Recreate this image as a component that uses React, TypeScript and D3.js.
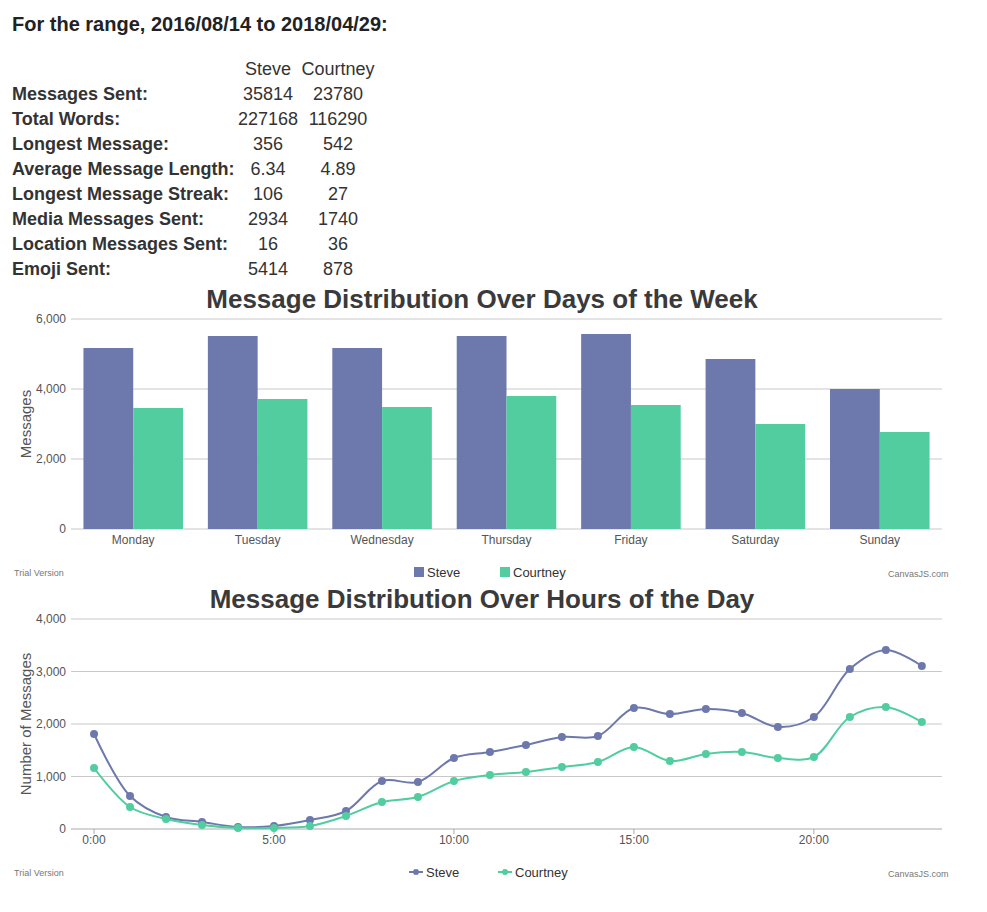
import React from "react";
import * as d3 from "d3";

const rangeTitle = "For the range, 2016/08/14 to 2018/04/29:";
const people = ["Steve", "Courtney"];
const statLabels = ["Messages Sent:", "Total Words:", "Longest Message:", "Average Message Length:", "Longest Message Streak:", "Media Messages Sent:", "Location Messages Sent:", "Emoji Sent:"];
const steveStats = ["35814", "227168", "356", "6.34", "106", "2934", "16", "5414"];
const courtneyStats = ["23780", "116290", "542", "4.89", "27", "1740", "36", "878"];

const days = ["Monday", "Tuesday", "Wednesday", "Thursday", "Friday", "Saturday", "Sunday"];
const steveDays = [5171, 5514, 5171, 5514, 5571, 4857, 4000];
const courtneyDays = [3457, 3714, 3486, 3800, 3543, 3000, 2771];
const dayTicks = [0, 2000, 4000, 6000];

const hours = d3.range(24);
const steveHours = [1810, 629, 229, 133, 38, 57, 171, 343, 914, 895, 1352, 1467, 1600, 1752, 1771, 2305, 2190, 2286, 2210, 1943, 2133, 3048, 3410, 3105];
const courtneyHours = [1162, 419, 190, 76, 19, 19, 57, 248, 514, 610, 914, 1029, 1086, 1181, 1276, 1562, 1295, 1429, 1467, 1352, 1371, 2133, 2324, 2038];
const hourTicks = [0, 5, 10, 15, 20];
const countTicks = [0, 1000, 2000, 3000, 4000];

const colors = ["#6D78AD", "#51CDA0"];
const font = "'Liberation Sans', Arial, sans-serif";
const fmt = d3.format(",");

export default function App() {
  const L = 71, R = 942;
  // bar chart
  const x0 = d3.scaleBand().domain(days).range([L, R]).paddingInner(0.2).paddingOuter(0.1);
  const x1 = d3.scaleBand().domain(people).range([0, x0.bandwidth()]);
  const yb = d3.scaleLinear().domain([0, 6000]).range([529, 319]);
  // line chart
  const xl = d3.scaleLinear().domain([-0.64, 23.56]).range([L, R]);
  const yl = d3.scaleLinear().domain([0, 4000]).range([829, 619]);
  const line = d3.line<number>().x((_, i) => xl(hours[i])).y(d => yl(d)).curve(d3.curveCatmullRom.alpha(0.5));
  const hourSeries = [steveHours, courtneyHours];

  return (
    <svg width={987} height={912} style={{ position: "absolute", left: 0, top: 0 }} fontFamily={font}>
      <rect width={987} height={912} fill="#fff" />
      <text x={12} y={31} fontSize={20} fontWeight="bold" fill="#222">{rangeTitle}</text>
      <text x={268} y={75} fontSize={18} textAnchor="middle" fill="#333">Steve</text>
      <text x={338} y={75} fontSize={18} textAnchor="middle" fill="#333">Courtney</text>
      {statLabels.map((l, i) => (
        <g key={l}>
          <text x={12} y={100 + i * 25} fontSize={18} fontWeight="bold" fill="#333">{l}</text>
          <text x={268} y={100 + i * 25} fontSize={18} textAnchor="middle" fill="#333">{steveStats[i]}</text>
          <text x={338} y={100 + i * 25} fontSize={18} textAnchor="middle" fill="#333">{courtneyStats[i]}</text>
        </g>
      ))}

      {/* bar chart */}
      <text x={482} y={308} fontSize={26} fontWeight="bold" textAnchor="middle" fill="#3A3A3A">Message Distribution Over Days of the Week</text>
      {dayTicks.map(t => (
        <g key={t}>
          <line x1={L} x2={R} y1={yb(t)} y2={yb(t)} stroke="#c8c8c8" />
          <text x={66} y={yb(t) + 4} fontSize={12} textAnchor="end" fill="#555">{fmt(t)}</text>
        </g>
      ))}
      {days.map((d, i) => (
        <g key={d}>
          {[steveDays[i], courtneyDays[i]].map((v, j) => (
            <rect key={j} x={x0(d)! + x1(people[j])!} width={x1.bandwidth()} y={yb(v)} height={yb(0) - yb(v)} fill={colors[j]} />
          ))}
          <text x={x0(d)! + x0.bandwidth() / 2} y={544} fontSize={12} textAnchor="middle" fill="#555">{d}</text>
        </g>
      ))}
      <text transform="translate(31,424) rotate(-90)" fontSize={15} textAnchor="middle" fill="#555">Messages</text>
      {people.map((p, j) => (
        <g key={p}>
          <rect x={414 + j * 86} y={567} width={10} height={10} fill={colors[j]} />
          <text x={427 + j * 86} y={577} fontSize={13} fill="#333">{p}</text>
        </g>
      ))}
      <text x={14} y={576} fontSize={9} fill="#777">Trial Version</text>
      <text x={888} y={577} fontSize={9} fill="#777">CanvasJS.com</text>

      {/* line chart */}
      <text x={482} y={608} fontSize={26} fontWeight="bold" textAnchor="middle" fill="#3A3A3A">Message Distribution Over Hours of the Day</text>
      {countTicks.map(t => (
        <g key={t}>
          <line x1={L} x2={R} y1={yl(t)} y2={yl(t)} stroke={t === 0 ? "#aaa" : "#c8c8c8"} />
          <text x={66} y={yl(t) + 4} fontSize={12} textAnchor="end" fill="#555">{fmt(t)}</text>
        </g>
      ))}
      {hourTicks.map(h => (
        <g key={h}>
          <line x1={xl(h)} x2={xl(h)} y1={829} y2={834} stroke="#aaa" />
          <text x={xl(h)} y={844} fontSize={12} textAnchor="middle" fill="#555">{h}:00</text>
        </g>
      ))}
      <text transform="translate(31,724) rotate(-90)" fontSize={15} textAnchor="middle" fill="#555">Number of Messages</text>
      {hourSeries.map((s, j) => (
        <g key={j}>
          <path d={line(s)!} fill="none" stroke={colors[j]} strokeWidth={2} />
          {s.map((v, i) => <circle key={i} cx={xl(hours[i])} cy={yl(v)} r={4} fill={colors[j]} />)}
        </g>
      ))}
      {people.map((p, j) => (
        <g key={p}>
          <line x1={409 + j * 89} x2={423 + j * 89} y1={872} y2={872} stroke={colors[j]} strokeWidth={2} />
          <circle cx={416 + j * 89} cy={872} r={3} fill={colors[j]} />
          <text x={426 + j * 89} y={877} fontSize={13} fill="#333">{p}</text>
        </g>
      ))}
      <text x={14} y={876} fontSize={9} fill="#777">Trial Version</text>
      <text x={888} y={877} fontSize={9} fill="#777">CanvasJS.com</text>
    </svg>
  );
}
